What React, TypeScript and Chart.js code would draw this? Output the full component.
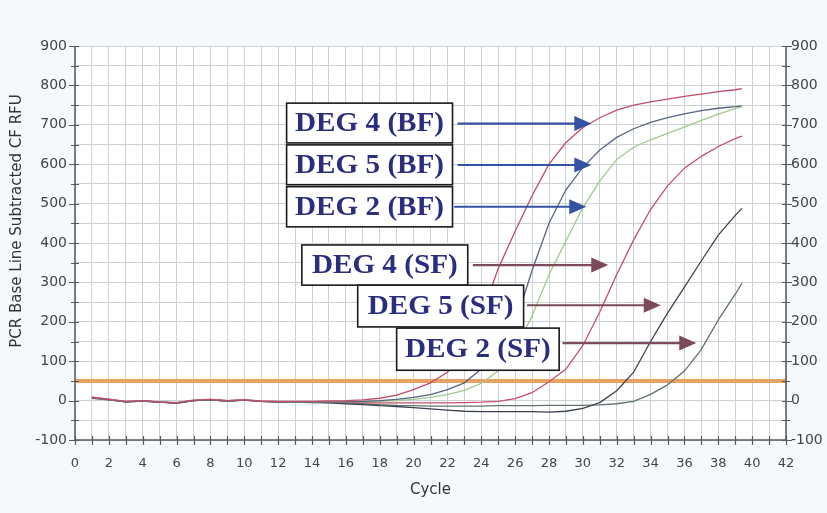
import { useEffect, useRef } from "react";
import { Chart, registerables } from "chart.js";

Chart.register(...registerables);

// ---- data ----
const cycles = [
  1, 2, 3, 4, 5, 6, 7, 8, 9, 10, 11, 12, 13, 14, 15, 16, 17, 18, 19, 20,
  21, 22, 23, 24, 25, 26, 27, 28, 29, 30, 31, 32, 33, 34, 35, 36, 37, 38, 39, 39.4,
];

const deg4BF = [
  8, 3, -2, 0, -3, -5, 1, 3, 0, 2, -1, -2, -2, -2, -1,
  0, 2, 6, 14, 28, 45, 72, 125, 215, 335, 430, 520, 600, 655, 693,
  718, 737, 750, 758, 765, 772, 778, 784, 789, 792,
];
const deg5BF = [
  6, 2, -3, -1, -4, -6, 0, 2, -1, 1, -2, -3, -3, -4, -4,
  -3, -2, 0, 3, 8, 15, 28, 45, 80, 130, 195, 330, 450, 535, 592,
  636, 668, 690, 706, 718, 728, 736, 742, 746, 748,
];
const deg2BF = [
  7, 3, -2, 0, -3, -5, 1, 3, 0, 2, -1, -2, -3, -3, -3,
  -3, -3, -2, 0, 3, 8, 15, 26, 44, 75, 130, 215, 320, 405, 490,
  557, 612, 643, 662, 678, 694, 711, 727, 741, 746,
];
const deg4SF = [
  9, 4, -2, 0, -4, -6, 0, 3, 0, 2, -2, -3, -3, -4, -4,
  -5, -5, -6, -6, -6, -6, -6, -5, -4, -2, 5, 20, 48, 80, 140,
  225, 320, 408, 485, 545, 590, 620, 645, 665, 671,
];
const deg5SF = [
  8, 3, -3, -1, -4, -7, 0, 2, -1, 1, -2, -3, -4, -5, -6,
  -8, -10, -13, -15, -18, -21, -24, -27, -28, -28, -28, -28, -29, -27, -20,
  -5, 25, 72, 150, 222, 288, 355, 420, 470, 488,
];
const deg2SF = [
  7, 2, -3, -1, -4, -6, 0, 2, -1, 1, -2, -3, -3, -4, -5,
  -6, -8, -10, -12, -13, -14, -14, -14, -14, -13, -13, -13, -12, -12, -12,
  -11, -8, -2, 16, 40, 75, 130, 205, 270, 298,
];

const thresholdValue = 50;

const seriesNames = ["DEG 4 (BF)", "DEG 5 (BF)", "DEG 2 (BF)", "DEG 4 (SF)", "DEG 5 (SF)", "DEG 2 (SF)"];
const seriesValues = [deg4BF, deg5BF, deg2BF, deg4SF, deg5SF, deg2SF];
const seriesColors = ["#c24d69", "#56657f", "#a3c88f", "#c4506c", "#3b444e", "#64736c"];

const xMin = 0;
const xMax = 42;
const yMin = -100;
const yMax = 900;

// callouts (data units): box [x1, x2, yTop, yBottom], arrow [xFrom, xTo, y]
const callouts = [
  { text: "DEG 4 (BF)", box: [12.5, 22.3, 755, 654], arrow: [22.6, 30.5, 703], color: "#3652a3" },
  { text: "DEG 5 (BF)", box: [12.5, 22.3, 649, 548], arrow: [22.6, 30.5, 598], color: "#3652a3" },
  { text: "DEG 2 (BF)", box: [12.5, 22.3, 543, 441], arrow: [22.4, 30.2, 492], color: "#3652a3" },
  { text: "DEG 4 (SF)", box: [13.4, 23.2, 395, 293], arrow: [23.5, 31.5, 344], color: "#7b4a5c" },
  { text: "DEG 5 (SF)", box: [16.7, 26.5, 293, 187], arrow: [26.7, 34.6, 242], color: "#7b4a5c" },
  { text: "DEG 2 (SF)", box: [19.0, 28.6, 184, 77], arrow: [28.8, 36.7, 146], color: "#7b4a5c" },
];

const decorPlugin = {
  id: "decor",
  beforeDraw(chart: any) {
    const { ctx, chartArea: a, width, height } = chart;
    ctx.save();
    ctx.fillStyle = "#f6f9fc";
    ctx.fillRect(0, 0, width, height);
    ctx.fillStyle = "#ffffff";
    ctx.fillRect(a.left, a.top, a.right - a.left, a.bottom - a.top);
    ctx.restore();
  },
  afterDatasetsDraw(chart: any) {
    const { ctx, chartArea: a } = chart;
    const xs = chart.scales.x;
    const ys = chart.scales.y;
    ctx.save();
    // axes
    ctx.strokeStyle = "#555a5e";
    ctx.lineWidth = 1.5;
    ctx.beginPath();
    ctx.moveTo(a.left, a.top);
    ctx.lineTo(a.left, a.bottom);
    ctx.lineTo(a.right, a.bottom);
    ctx.lineTo(a.right, a.top);
    ctx.stroke();
    ctx.lineWidth = 1.2;
    ctx.beginPath();
    for (let c = xMin; c <= xMax; c++) {
      const px = Math.round(xs.getPixelForValue(c)) + 0.5;
      ctx.moveTo(px, a.bottom - 4);
      ctx.lineTo(px, a.bottom + 5);
    }
    for (let v = yMin; v <= yMax; v += 50) {
      const py = Math.round(ys.getPixelForValue(v)) + 0.5;
      const len = v % 100 === 0 ? 6 : 4;
      ctx.moveTo(a.left - len, py);
      ctx.lineTo(a.left + 4, py);
      ctx.moveTo(a.right - 4, py);
      ctx.lineTo(a.right + len, py);
    }
    ctx.stroke();

    // callouts
    for (const c of callouts) {
      const x1 = xs.getPixelForValue(c.box[0]);
      const x2 = xs.getPixelForValue(c.box[1]);
      const y1 = ys.getPixelForValue(c.box[2]);
      const y2 = ys.getPixelForValue(c.box[3]);
      ctx.fillStyle = "#ffffff";
      ctx.fillRect(x1, y1, x2 - x1, y2 - y1);
      ctx.strokeStyle = "#1a1a1a";
      ctx.lineWidth = 1.6;
      ctx.strokeRect(x1, y1, x2 - x1, y2 - y1);
      ctx.save();
      ctx.translate((x1 + x2) / 2, (y1 + y2) / 2 + 1);
      ctx.scale(1.08, 1);
      ctx.fillStyle = "#2b2d7e";
      ctx.font = "bold 27px 'Liberation Serif'";
      ctx.textAlign = "center";
      ctx.textBaseline = "middle";
      ctx.fillText(c.text, 0, 0);
      ctx.restore();

      const ax1 = xs.getPixelForValue(c.arrow[0]);
      const ax2 = xs.getPixelForValue(c.arrow[1]);
      const ay = ys.getPixelForValue(c.arrow[2]);
      ctx.strokeStyle = c.color;
      ctx.fillStyle = c.color;
      ctx.lineWidth = 2.2;
      ctx.beginPath();
      ctx.moveTo(ax1, ay);
      ctx.lineTo(ax2 - 14, ay);
      ctx.stroke();
      ctx.beginPath();
      ctx.moveTo(ax2, ay);
      ctx.lineTo(ax2 - 17, ay - 7.5);
      ctx.lineTo(ax2 - 17, ay + 7.5);
      ctx.closePath();
      ctx.fill();
    }

    // axis titles
    ctx.fillStyle = "#333333";
    ctx.font = "15px 'DejaVu Sans'";
    ctx.textAlign = "center";
    ctx.textBaseline = "middle";
    ctx.fillText("Cycle", (a.left + a.right) / 2, 490);
    ctx.save();
    ctx.translate(17, 221);
    ctx.rotate(-Math.PI / 2);
    ctx.fillText("PCR Base Line Subtracted CF RFU", 0, 0);
    ctx.restore();
    ctx.restore();
  },
};

export default function App() {
  const ref = useRef<HTMLCanvasElement | null>(null);

  useEffect(() => {
    document.body.style.margin = "0";
    const canvas = ref.current;
    if (!canvas) return;

    const datasets: any[] = seriesValues.map((vals, i) => ({
      label: seriesNames[i],
      data: cycles.map((c, j) => ({ x: c, y: vals[j] })),
      borderColor: seriesColors[i],
      borderWidth: 1.3,
      pointRadius: 0,
      tension: 0,
      fill: false,
    }));
    datasets.push({
      label: "Threshold",
      data: [
        { x: xMin, y: thresholdValue },
        { x: xMax, y: thresholdValue },
      ],
      borderColor: "#e6a262",
      borderWidth: 4,
      pointRadius: 0,
      fill: false,
    });

    const xFont = { family: "'DejaVu Sans'", size: 13 };
    const yFont = { family: "'DejaVu Sans'", size: 14 };

    const chart = new Chart(canvas, {
      type: "line",
      data: { datasets },
      plugins: [decorPlugin],
      options: {
        animation: false,
        responsive: false,
        layout: { padding: { top: 46, left: 0, right: 0, bottom: 0 } },
        plugins: { legend: { display: false }, tooltip: { enabled: false } },
        scales: {
          x: {
            type: "linear",
            min: xMin,
            max: xMax,
            grid: { color: "#cdd1d5", drawTicks: false },
            border: { display: false },
            ticks: {
              stepSize: 1,
              autoSkip: false,
              maxRotation: 0,
              padding: 16,
              color: "#444",
              font: xFont,
              callback: (v: any) => (Number(v) % 2 === 0 ? String(v) : ""),
            },
            afterFit: (s: any) => {
              s.height = 73;
            },
          },
          y: {
            type: "linear",
            position: "left",
            min: yMin,
            max: yMax,
            grid: { color: "#cdd1d5", drawTicks: false },
            border: { display: false },
            ticks: {
              stepSize: 50,
              autoSkip: false,
              padding: 8,
              color: "#444",
              font: yFont,
              callback: (v: any) => (Number(v) % 100 === 0 ? String(v) : ""),
            },
            afterFit: (s: any) => {
              s.width = 75;
            },
          },
          y1: {
            type: "linear",
            position: "right",
            min: yMin,
            max: yMax,
            grid: { drawOnChartArea: false, drawTicks: false },
            border: { display: false },
            ticks: {
              stepSize: 50,
              autoSkip: false,
              padding: 5,
              color: "#444",
              font: yFont,
              callback: (v: any) => (Number(v) % 100 === 0 ? String(v) : ""),
            },
            afterFit: (s: any) => {
              s.width = 41;
            },
          },
        },
      },
    } as any);

    return () => chart.destroy();
  }, []);

  return (
    <div style={{ width: 827, height: 513 }}>
      <canvas ref={ref} width={827} height={513} style={{ display: "block" }} />
    </div>
  );
}
